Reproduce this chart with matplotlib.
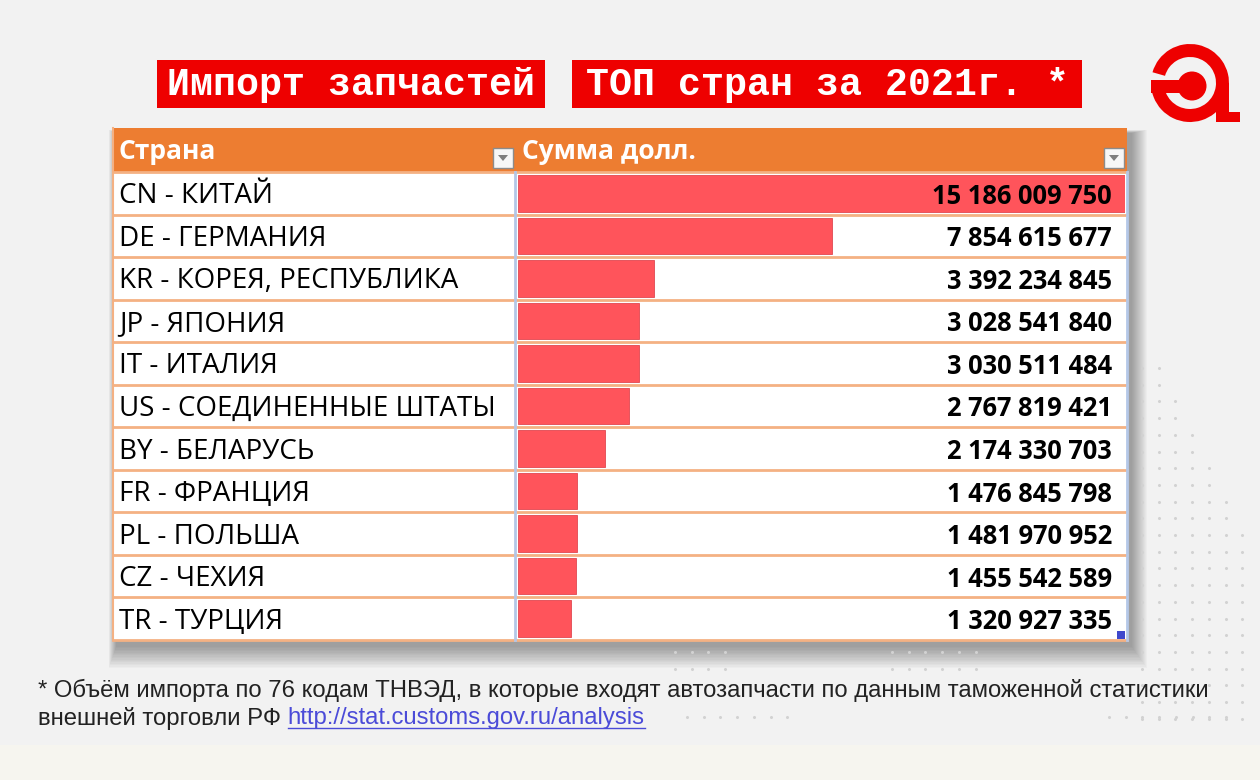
import matplotlib
matplotlib.use("Agg")
import matplotlib.pyplot as plt
from matplotlib.patches import Rectangle, Wedge, Circle, Polygon
from matplotlib.transforms import offset_copy

# данные таблицы
paises = ["CN - КИТАЙ", "DE - ГЕРМАНИЯ", "KR - КОРЕЯ, РЕСПУБЛИКА", "JP - ЯПОНИЯ",
          "IT - ИТАЛИЯ", "US - СОЕДИНЕННЫЕ ШТАТЫ", "BY - БЕЛАРУСЬ", "FR - ФРАНЦИЯ",
          "PL - ПОЛЬША", "CZ - ЧЕХИЯ", "TR - ТУРЦИЯ"]
sumas = [15186009750, 7854615677, 3392234845, 3028541840, 3030511484, 2767819421,
         2174330703, 1476845798, 1481970952, 1455542589, 1320927335]
titulo1 = "Импорт запчастей"
titulo2 = "ТОП стран за 2021г. *"
cab1 = "Страна"
cab2 = "Сумма долл."
nota1 = "* Объём импорта по 76 кодам ТНВЭД, в которые входят автозапчасти по данным таможенной статистики"
nota2 = "внешней торговли РФ "
enlace = "http://stat.customs.gov.ru/analysis"

W, H = 1260, 780
fondo = "#F2F2F2"
naranja = "#ED7D31"
linea = "#F4B183"
rojo = "#FF545B"
rojoTit = "#EE0000"
fuente = ["Open Sans", "DejaVu Sans"]

fig = plt.figure(figsize=(W/100, H/100), dpi=100)
fig.patch.set_facecolor(fondo)
ax = fig.add_axes([0, 0, 1, 1])
ax.set_xlim(0, W)
ax.set_ylim(H, 0)
ax.axis("off")
ax.set_zorder(0)

# franja inferior
ax.add_patch(Rectangle((0, 745), W, 35, color="#F6F5EF", lw=0))

# puntos decorativos
def puntos(x0, y0, nx, ny, paso=16.7, tri=False):
	for j in range(ny):
		n = nx
		if tri:
			n = min(nx, 2 + j//2)
		for i in range(n):
			ax.plot(x0 + i*paso, y0 + j*paso, 'o', ms=2.2, color="#D2D2D2", mec="none")
puntos(1142, 368, 7, 22, tri=True)
puntos(675, 652, 4, 2)
puntos(892, 652, 6, 2)
puntos(687, 717, 7, 1)
puntos(1109, 717, 8, 1)

# titulo
ax.add_patch(Rectangle((157, 60), 388, 48, color=rojoTit, lw=0))
ax.add_patch(Rectangle((572, 60), 510, 48, color=rojoTit, lw=0))
ax.text(351, 85, titulo1, color="white", fontsize=27.5, family="Liberation Mono",
	fontweight="bold", ha="center", va="center")
ax.text(827, 85, titulo2, color="white", fontsize=27.5, family="Liberation Mono",
	fontweight="bold", ha="center", va="center")

# logo
cx, cy, r = 1190, 83, 39
ax.add_patch(Wedge((cx, cy), r, 196, 180, width=13, color=rojoTit, lw=0))
ax.add_patch(Rectangle((1151, 80), 41, 13, color=rojoTit, lw=0))
ax.add_patch(Circle((1192, 86), 14.5, color=rojoTit, lw=0))
ax.add_patch(Rectangle((1216, 83), 13, 39, color=rojoTit, lw=0))
ax.add_patch(Rectangle((1216, 112), 24, 10, color=rojoTit, lw=0))

# tabla
x0, x1, xc = 113, 1127, 515
yh0, yh1, yf = 128, 172, 640
n = len(paises)
hf = (yf - yh1)/n
for k in range(16):
	ax.add_patch(Rectangle((x0 + 3 - k*0.5, yh0 + 5 - k*0.2), x1 - x0 + 2 + k*1.5, yf - yh0 + 2 + k*1.6,
		color="black", alpha=0.022, lw=0))
ax.add_patch(Rectangle((x0, yh0), x1 - x0, yf - yh0, color="white", lw=0))
ax.add_patch(Rectangle((x0, yh0), x1 - x0, yh1 - yh0, color=naranja, lw=0))
ax.text(118, 159, cab1, color="white", fontsize=19, fontweight="bold", family=fuente, va="baseline")
ax.text(522, 159, cab2, color="white", fontsize=19, fontweight="bold", family=fuente, va="baseline")
for xb in [493, 1104]:
	ax.add_patch(Rectangle((xb, 148), 20, 20, facecolor="#F7F7F7", edgecolor="#8C8C8C", lw=1))
	ax.add_patch(Polygon([[xb + 5, 155], [xb + 15, 155], [xb + 10, 161]], color="#7F7F7F", lw=0))
for i in range(n + 1):
	ax.plot([x0, x1], [yh1 + i*hf, yh1 + i*hf], color=linea, lw=2)
ax.plot([x0, x0], [yh0, yf], color=linea, lw=1.5)
ax.plot([xc, xc], [yh1, yf], color="#B4C7E7", lw=2)
ax.plot([x1, x1], [yh1, yf], color="#B4C7E7", lw=2)
ax.add_patch(Rectangle((1117, 631), 8, 8, color="#3F48CC", lw=0))
for i, p in enumerate(paises):
	ax.text(119, yh1 + (i + 0.5)*hf + 10, p, fontsize=20, family=fuente, va="baseline", color="black")

# barras
axb = fig.add_axes([518/W, (H - yf)/H, (1125 - 518)/W, (yf - yh1)/H])
axb.set_zorder(2)
axb.patch.set_alpha(0)
axb.barh(range(n), sumas, height=0.86, color=rojo, edgecolor="#E04850", lw=0.6)
axb.set_ylim(n - 0.5, -0.5)
axb.set_xlim(0, max(sumas))
axb.axis("off")
trv = offset_copy(axb.get_yaxis_transform(), fig=fig, y=-3, units="dots")
for i, v in enumerate(sumas):
	axb.text((1112 - 518)/(1125 - 518), i, f"{v:,}".replace(",", " "), transform=trv,
		ha="right", va="center", fontsize=18.4, fontweight="bold", family=fuente)

# nota
ax.text(38, 690, nota1, fontsize=17.2, family="Liberation Sans", va="center", color="#222222")
t2 = ax.text(38, 718, nota2, fontsize=17.2, family="Liberation Sans", va="center", color="#222222")
fig.canvas.draw()
bb = t2.get_window_extent()
xl = ax.transData.inverted().transform((bb.x1, 0))[0]
t3 = ax.text(xl, 718, enlace, fontsize=17.2, family="Liberation Sans", va="center", color="#4B4BD8")
fig.canvas.draw()
bb3 = t3.get_window_extent()
p0 = ax.transData.inverted().transform((bb3.x0, bb3.y0))
p1 = ax.transData.inverted().transform((bb3.x1, bb3.y0))
ax.plot([p0[0], p1[0]], [p0[1] - 1, p1[1] - 1], color="#4B4BD8", lw=1)

fig.savefig("out.png", dpi=100, facecolor=fondo)
